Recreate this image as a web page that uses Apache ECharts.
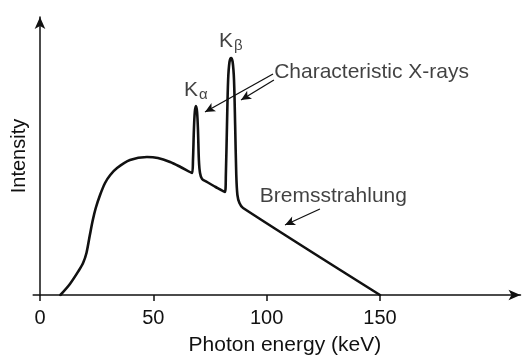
<!DOCTYPE html>
<html>
<head>
<meta charset="utf-8">
<script src="https://cdn.jsdelivr.net/npm/echarts@6/dist/echarts.min.js"></script>
<style>
html,body{margin:0;padding:0;background:#fff;}
#c{width:528px;height:361px;}
</style>
</head>
<body>
<div id="c"></div>
<script>
// Spectrum (photon energy keV, intensity arbitrary units)
var energy = [9, 13.2, 17, 19, 20.5, 22, 23.3, 24.6, 26.5, 28.7, 31, 34, 39.7, 47.2, 52, 57.4, 62, 67.1,
  67.5, 67.9, 68.3, 68.8, 69.3, 69.7, 70.1, 70.6, 71.5, 73.7, 77.5, 81.6,
  82.0, 82.5, 83.0, 83.6, 84.3, 85.0, 85.6, 86.1, 86.6, 87.1, 88.0, 89.6, 150];
var intensity = [0, 11, 24, 32, 42, 60, 75, 87, 100, 112, 120, 127, 135, 138, 137, 133, 128, 122,
  135, 165, 183, 189, 183, 165, 135, 122, 116, 113, 108, 103,
  120, 170, 215, 233, 237, 233, 215, 170, 120, 100, 92, 87, 0];
var tickValues = [0, 50, 100, 150];

// Annotations
var labelTexts = ['{k|K}{s|α}', '{k|K}{s|β}', 'Characteristic X-rays', 'Bremsstrahlung'];
var labelE = [63.5, 79, 103.3, 97];
var labelI = [205, 254, 223, 99];
// Arrows [fromE, fromI] -> [toE, toI]
var arrowFromE = [102.8, 103.2, 123.5];
var arrowFromI = [221, 215, 86];
var arrowToE = [72.8, 88.7, 108.1];
var arrowToI = [183, 195, 70];

var INK = '#111';
var FONT = 'Liberation Sans';

var lineData = energy.map(function (e, i) { return [e, intensity[i]]; });
var labelData = labelTexts.map(function (t, i) { return [labelE[i], labelI[i], t]; });
var arrowData = arrowFromE.map(function (e, i) {
  return [{ coord: [e, arrowFromI[i]] }, { coord: [arrowToE[i], arrowToI[i]] }];
});

var chart = echarts.init(document.getElementById('c'), null, { renderer: 'canvas' });
chart.setOption({
  animation: false,
  backgroundColor: '#fff',
  textStyle: { fontFamily: FONT, color: INK },
  grid: { left: 33.2, right: 7.5, top: 17, bottom: 66, containLabel: false, outerBoundsMode: 'none' },
  xAxis: {
    type: 'value', min: -3, max: 212,
    name: 'Photon energy (keV)', nameLocation: 'middle', nameGap: 40,
    nameTextStyle: { fontSize: 21, color: INK, fontFamily: FONT, padding: [0, 0, 0, 16] },
    axisLine: { show: true, onZero: true, symbol: ['none', 'arrow'], symbolSize: [8, 12],
      lineStyle: { color: INK, width: 1.5 } },
    axisTick: { show: true, customValues: tickValues, length: 6, lineStyle: { color: INK, width: 1.5 } },
    axisLabel: { customValues: tickValues, fontSize: 20, color: INK, margin: 13, fontFamily: FONT },
    splitLine: { show: false }
  },
  yAxis: {
    type: 'value', min: 0, max: 278,
    name: 'Intensity', nameLocation: 'middle', nameGap: 4,
    nameTextStyle: { fontSize: 20, color: INK, fontFamily: FONT },
    axisLine: { show: true, onZero: true, symbol: ['none', 'arrow'], symbolSize: [8, 12],
      lineStyle: { color: INK, width: 1.5 } },
    axisTick: { show: false },
    axisLabel: { show: false },
    splitLine: { show: false }
  },
  series: [
    {
      type: 'line', data: lineData, smooth: 0.3, showSymbol: false, symbol: 'none',
      lineStyle: { color: INK, width: 2.6, join: 'round', cap: 'round' },
      silent: true,
      markLine: {
        silent: true, animation: false,
        symbol: ['none', 'arrow'], symbolSize: [7, 10],
        lineStyle: { color: INK, width: 1.3, type: 'solid' },
        label: { show: false },
        emphasis: { disabled: true },
        data: arrowData
      }
    },
    {
      type: 'scatter', data: labelData, symbolSize: 0, silent: true,
      label: {
        show: true, position: 'right', distance: 0,
        formatter: function (p) { return p.data[2]; },
        fontSize: 21, color: INK, fontFamily: FONT,
        rich: {
          k: { fontSize: 21, color: INK, fontFamily: FONT, verticalAlign: 'top', lineHeight: 21 },
          s: { fontSize: 15, color: INK, fontFamily: FONT, lineHeight: 15, padding: [9, 0, 0, 1] }
        }
      }
    }
  ]
});
</script>
</body>
</html>
